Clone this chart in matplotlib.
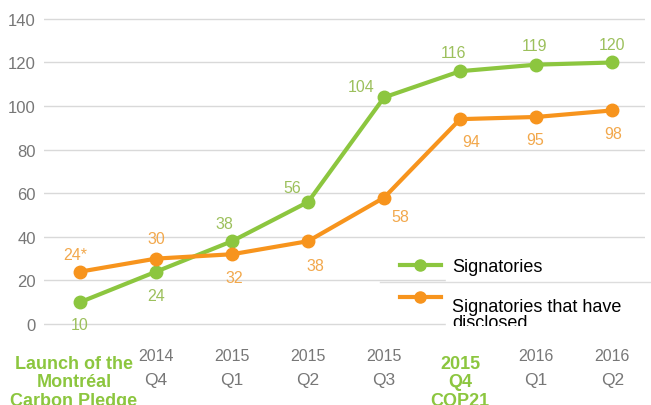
import matplotlib.pyplot as plt
from matplotlib.patches import Rectangle
from matplotlib.lines import Line2D

# data
periods = ['Launch', '2014 Q4', '2015 Q1', '2015 Q2', '2015 Q3', '2015 Q4', '2016 Q1', '2016 Q2']
years = ['', '2014', '2015', '2015', '2015', '', '2016', '2016']
quarters = ['', 'Q4', 'Q1', 'Q2', 'Q3', '', 'Q1', 'Q2']
signatories = [10, 24, 38, 56, 104, 116, 119, 120]
disclosed = [24, 30, 32, 38, 58, 94, 95, 98]
disclosed_labels = ['24*', '30', '32', '38', '58', '94', '95', '98']

# label offsets from the point, in pixels (as in the original artwork)
sig_off = [(0, -22), (0, -24), (-8, 18), (-16, 14), (-23, 11), (-7, 19), (-2, 19), (0, 18)]
dis_off = [(-5, 17), (0, 20), (2, -23), (7, -24), (16, -19), (11, -22), (-1, -23), (1, -23)]

green = '#8cc63f'
orange = '#f7941d'
green_lab = '#9cc05c'
orange_lab = '#f2a84c'
gray = '#777777'
num_font = 'Liberation Sans'

fig = plt.figure(figsize=(6.51, 4.06), dpi=100)
ax = fig.add_axes([0.0676, 0.162, 0.923, 0.8158])
x = list(range(len(periods)))

ax.set_xlim(-0.474, 7.43)
ax.set_ylim(-7, 145)
for v in range(0, 141, 20):
    ax.axhline(v, color='#d9d9d9', lw=1, zorder=0)

ax.plot(x, signatories, color=green, lw=3, marker='o', ms=9, zorder=3, clip_on=False)
ax.plot(x, disclosed, color=orange, lw=3, marker='o', ms=9, zorder=3, clip_on=False)

for i in x:
    ax.annotate(str(signatories[i]), (i, signatories[i]), xytext=sig_off[i],
                textcoords='offset pixels', ha='center', va='center', color=green_lab,
                fontsize=11.5, family=num_font)
    ax.annotate(disclosed_labels[i], (i, disclosed[i]), xytext=dis_off[i],
                textcoords='offset pixels', ha='center', va='center', color=orange_lab,
                fontsize=11.5, family=num_font)

ax.set_yticks(range(0, 141, 20))
ax.set_yticklabels([str(v) for v in range(0, 141, 20)], family=num_font, fontsize=12, color=gray)
ax.tick_params(axis='y', length=0, pad=6)
ax.set_xticks([])
for s in ax.spines.values():
    s.set_visible(False)

# x labels
xt = ax.get_xaxis_transform()
for i in x:
    if years[i]:
        ax.text(i, -0.050, years[i], transform=xt, ha='center', va='center',
                fontsize=11.5, family=num_font, color=gray)
        ax.text(i, -0.123, quarters[i], transform=xt, ha='center', va='center',
                fontsize=12.5, family='Liberation Sans', color=gray)
ax.text(-0.08, -0.047, 'Launch of the\nMontréal\nCarbon Pledge', transform=xt,
        ha='center', va='top', fontsize=13, family='Liberation Sans', fontweight='bold',
        color=green, linespacing=1.13)
ax.text(5, -0.047, '2015\nQ4\nCOP21', transform=xt,
        ha='center', va='top', fontsize=13, family='Liberation Sans', fontweight='bold',
        color=green, linespacing=1.13)

# legend box
fig.patches.append(Rectangle((446 / 651, 1 - 330 / 406), 205 / 651, 78 / 406,
                             transform=fig.transFigure, color='white', zorder=5))
fig.lines.append(Line2D([380 / 651, 1], [1 - 283 / 406] * 2, transform=fig.transFigure,
                        color='#dddddd', lw=1, zorder=6))
fig.lines.append(Line2D([400 / 651, 420 / 651, 441 / 651], [1 - 266 / 406] * 3, transform=fig.transFigure,
                        color=green, lw=3, marker='o', ms=8, markevery=[1], zorder=6))
fig.lines.append(Line2D([400 / 651, 420 / 651, 441 / 651], [1 - 298 / 406] * 3, transform=fig.transFigure,
                        color=orange, lw=3, marker='o', ms=8, markevery=[1], zorder=6))
fig.text(452 / 651, 1 - 268 / 406, 'Signatories', fontsize=13, family='Liberation Sans',
         va='center', zorder=7)
t = fig.text(452 / 651, 1 - 299 / 406, 'Signatories that have\ndisclosed', fontsize=13,
             family='Liberation Sans', va='top', zorder=7, linespacing=0.95)
t.set_clip_path(Rectangle((446 / 651, 1 - 327 / 406), 205 / 651, 40 / 406, transform=fig.transFigure))

fig.savefig('out.png', dpi=100)
